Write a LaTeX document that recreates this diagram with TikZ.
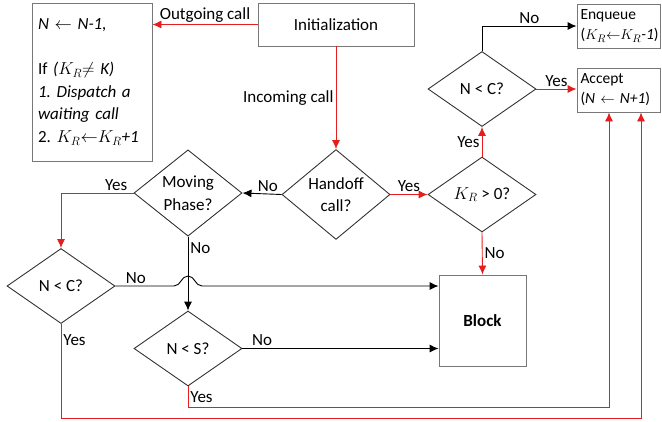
\documentclass[tikz,border=0pt]{standalone}
\usepackage{fontspec}
\setmainfont{Carlito}
\usetikzlibrary{shapes.geometric,arrows.meta}
\definecolor{flowred}{RGB}{228,30,30}
\definecolor{boxgray}{RGB}{120,120,120}
\frenchspacing

\begin{document}
\begin{tikzpicture}
[x=1pt,y=-1pt,
 every node/.style={font=\fontsize{17}{22.5}\selectfont},
 process/.style={rectangle,draw=boxgray,line width=0.9pt,inner sep=0pt},
 result/.style={process,minimum width=83pt,minimum height=44pt,text width=76pt,align=left,
   font=\fontsize{15.5}{20}\selectfont},
 decision/.style={diamond,draw=black!80,line width=0.9pt,minimum width=108pt,minimum height=75pt,inner sep=0pt,align=center},
 blackarrow/.style={-{Latex[length=9pt,width=8pt]},line width=0.9pt},
 redarrow/.style={-{Latex[length=9pt,width=8pt]},line width=0.9pt,flowred},
 tag/.style={inner sep=2pt,text=black}];
\useasboundingbox (0,0) rectangle (662,421);

\node[process,minimum width=120pt,minimum height=158pt,text width=108pt,align=left] (update) at (92,82)
  {\mbox{\textit{N} $\leftarrow$ \textit{N-1,}}\\[22.5pt]
   \mbox{If \textit{($K_R{\neq}$ K)}}\\
   \mbox{\textit{1. Dispatch a}}\\
   \mbox{\textit{waiting call}}\\
   \mbox{2. $K_R{\leftarrow}K_R$\textit{+1}}};
\node[process,minimum width=156pt,minimum height=43pt] (init) at (336,24.5) {Initialization};
\node[decision] (handoff) at (336,194.5) {Handoff\\call?};
\node[decision] (kr) at (482,194.5) {$K_R$ > 0?};
\node[decision] (ncr) at (482,89) {N < C?};
\node[result] (enq) at (618.5,26)
  {\mbox{Enqueue}\\\mbox{($K_R{\leftarrow}K_R$\textit{-1})}};
\node[result] (acc) at (618.5,90)
  {\mbox{Accept}\\\mbox{(\textit{N} $\leftarrow$ \textit{N+1})}};
\node[decision] (move) at (188,193) {Moving\\Phase?};
\node[decision] (ncl) at (61,286) {N < C?};
\node[decision] (ns) at (188,348.5) {N < S?};
\node[process,minimum width=87pt,minimum height=91pt] (block) at (482.5,320.5) {\textbf{Block}};

\coordinate (hop) at (move.south |- ncl.east);

\draw[redarrow] (init.west) -- node[tag,above] {Outgoing call} (update.east |- init.west);
\draw[redarrow] (init.south) -- node[tag,left] {Incoming call} (handoff.north);
\draw[redarrow] (handoff.east) -- node[tag,above] {Yes} (kr.west);
\draw[redarrow] (kr.north) -- node[tag,left] {Yes} (ncr.south);
\draw[redarrow] (kr.south) -- node[tag,right] {No} (block.north);
\draw[redarrow] (ncr.east) -- node[tag,above] {Yes} (ncr.east -| acc.west);
\draw[blackarrow] (ncr.north) |- node[tag,pos=0.75,above] {No} (enq.west);
\draw[blackarrow] (handoff.west) -- node[tag,pos=0.35,above] {No} (move.east);
\draw[redarrow] (move.west) -| node[tag,pos=0.12,above] {Yes} (ncl.north);
\draw[blackarrow] (move.south) -- node[tag,pos=0.15,right] {No} (ns.north);
\draw[blackarrow] (ncl.east) -- node[tag,pos=0.35,above] {No} ([xshift=-14pt]hop)
  .. controls ([xshift=-7pt]hop) and ([xshift=-7pt,yshift=10pt]hop) .. ([yshift=10pt]hop)
  .. controls ([xshift=7pt,yshift=10pt]hop) and ([xshift=7pt]hop) .. ([xshift=14pt]hop)
  -- (block.west |- ncl.east);
\draw[blackarrow] (ns.east) -- node[tag,pos=0.1,above] {No} (block.west |- ns.east);
\draw[redarrow] (ns.south) -- node[tag,right] {Yes} ++(0,21) -| ([xshift=-9.5pt]acc.south);
\draw[redarrow] (ncl.south) -- node[tag,pos=0.17,right] {Yes} ++(0,94) -| ([xshift=22.5pt]acc.south);

\end{tikzpicture}
\end{document}
